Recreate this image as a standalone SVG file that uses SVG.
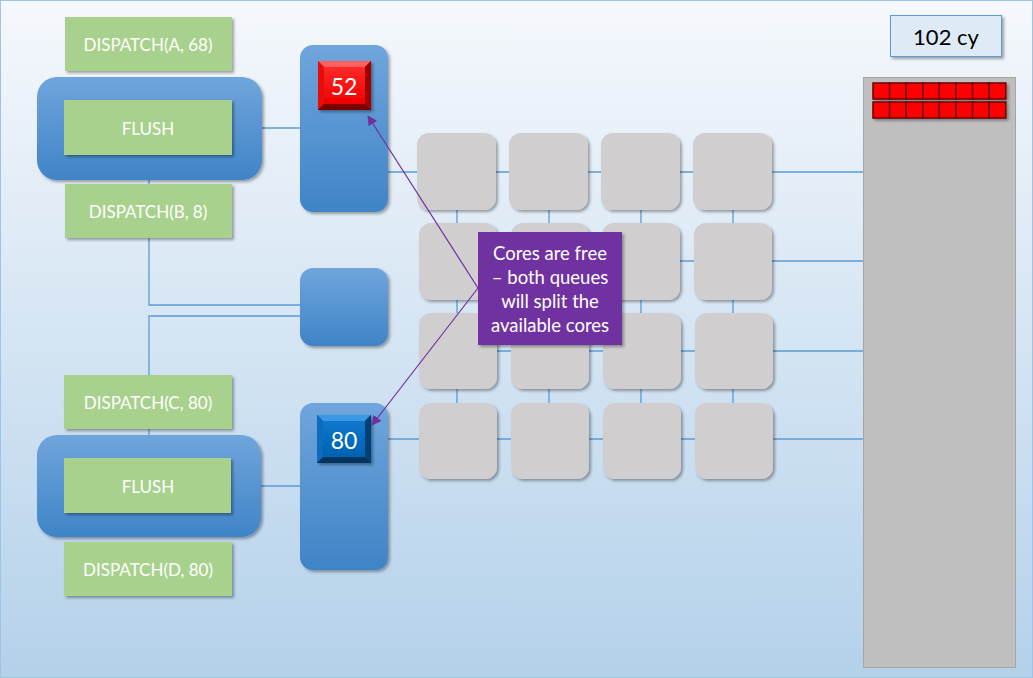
<svg xmlns="http://www.w3.org/2000/svg" width="1033" height="678" viewBox="0 0 1033 678">
<defs>
<linearGradient id="bg" x1="0" y1="0" x2="0" y2="1"><stop offset="0" stop-color="#f5f8fc"/><stop offset="1" stop-color="#b4d1ea"/></linearGradient>
<linearGradient id="blu" x1="0" y1="0" x2="0" y2="1"><stop offset="0" stop-color="#70a5dc"/><stop offset="1" stop-color="#3f84c7"/></linearGradient>
<linearGradient id="redf" x1="0" y1="0" x2="0" y2="1"><stop offset="0" stop-color="#ff2a2a"/><stop offset="1" stop-color="#ee0000"/></linearGradient>
<linearGradient id="bluf" x1="0" y1="0" x2="0" y2="1"><stop offset="0" stop-color="#0a78cc"/><stop offset="1" stop-color="#0062b0"/></linearGradient>
<filter id="sh" x="-20%" y="-20%" width="140%" height="140%"><feDropShadow dx="2" dy="2" stdDeviation="1.6" flood-color="#000" flood-opacity="0.35"/></filter>
<marker id="ah" viewBox="0 0 10 10" refX="9" refY="5" markerWidth="10" markerHeight="10" markerUnits="userSpaceOnUse" orient="auto"><path d="M0,0 L10,5 L0,10 z" fill="#7030a0"/></marker>
<style>
.ln{stroke:#5b9bd5;stroke-width:1.3;fill:none}
.grn{fill:#a9d18e;filter:url(#sh)}
.q{fill:url(#blu);filter:url(#sh)}
.core{fill:#d0cece;filter:url(#sh)}
.t{font-family:Lato,"Open Sans","Liberation Sans",sans-serif;font-size:17px;fill:#fff;text-anchor:middle;dominant-baseline:central}
.c{font-size:18.5px}
.num{font-family:Lato,"Open Sans","Liberation Sans",sans-serif;font-size:23px;fill:#fff;text-anchor:middle;dominant-baseline:central}
.arr{stroke:#7030a0;stroke-width:1.2;fill:none;marker-end:url(#ah)}
</style>
</defs>
<rect x="0.5" y="0.5" width="1032" height="677" fill="url(#bg)" stroke="#9dc3e6"/>

<g id="connectors">
<path class="ln" d="M262,128 H300"/>
<path class="ln" d="M149,180 V184 M149,238 V305 H300"/>
<path class="ln" d="M300,316 H149 V375 M149,429 V436"/>
<path class="ln" d="M261,486 H300"/>
<path class="ln" d="M388,172 H863"/>
<path class="ln" d="M458,261 H863"/>
<path class="ln" d="M458,351 H863"/>
<path class="ln" d="M388,439 H863"/>
<path class="ln" d="M457,210 V403 M549,210 V403 M641,210 V403 M733,210 V403"/>
</g>

<g id="flush1">
<rect x="37" y="77" width="225" height="103" rx="20" class="q"/>
<rect x="64" y="100" width="168" height="55" class="grn"/>
<text x="148" y="128" class="t">FLUSH</text>
</g>
<g id="dispatchA"><rect x="65" y="17" width="167" height="54" class="grn"/><text x="148" y="44" class="t">DISPATCH(A, 68)</text></g>
<g id="dispatchB"><rect x="65" y="184" width="167" height="54" class="grn"/><text x="148" y="211" class="t">DISPATCH(B, 8)</text></g>

<g id="flush2">
<rect x="37" y="435" width="224" height="102" rx="20" class="q"/>
<rect x="64" y="458" width="167" height="55" class="grn"/>
<text x="148" y="486" class="t">FLUSH</text>
</g>
<g id="dispatchC"><rect x="64" y="375" width="168" height="54" class="grn"/><text x="148" y="402" class="t">DISPATCH(C, 80)</text></g>
<g id="dispatchD"><rect x="64" y="542" width="168" height="54" class="grn"/><text x="148" y="569" class="t">DISPATCH(D, 80)</text></g>

<g id="queue1">
<rect x="300" y="45" width="88" height="167" rx="13" class="q"/>
<g filter="url(#sh)">
<rect x="318" y="61" width="53" height="49" fill="#c00000"/>
<polygon points="318,61 371,61 365,67 324,67" fill="#ff6060"/>
<polygon points="318,61 324,67 324,104 318,110" fill="#e81010"/>
<polygon points="371,61 371,110 365,104 365,67" fill="#a00000"/>
<polygon points="318,110 324,104 365,104 371,110" fill="#7a0000"/>
<rect x="324" y="67" width="41" height="37" fill="url(#redf)"/>
</g>
<text x="344" y="86" class="num">52</text>
</g>

<g id="queue2"><rect x="300" y="268" width="88" height="78" rx="13" class="q"/></g>

<g id="queue3">
<rect x="300" y="403" width="88" height="167" rx="13" class="q"/>
<g filter="url(#sh)">
<rect x="317" y="415" width="54" height="48" fill="#004a86"/>
<polygon points="317,415 371,415 365,421 323,421" fill="#3a98e4"/>
<polygon points="317,415 323,421 323,457 317,463" fill="#0a6cbc"/>
<polygon points="371,415 371,463 365,457 365,421" fill="#003f74"/>
<polygon points="317,463 323,457 365,457 371,463" fill="#00345f"/>
<rect x="323" y="421" width="42" height="36" fill="url(#bluf)"/>
</g>
<text x="344" y="440" class="num">80</text>
</g>

<g id="cores">
<rect x="417" y="133" width="79" height="77" rx="12" class="core"/>
<rect x="509" y="133" width="79" height="77" rx="12" class="core"/>
<rect x="601" y="133" width="79" height="77" rx="12" class="core"/>
<rect x="693" y="133" width="79" height="77" rx="12" class="core"/>
<rect x="419" y="223" width="78" height="77" rx="12" class="core"/>
<rect x="511" y="223" width="78" height="77" rx="12" class="core"/>
<rect x="602" y="223" width="78" height="77" rx="12" class="core"/>
<rect x="694" y="223" width="78" height="77" rx="12" class="core"/>
<rect x="419" y="313" width="78" height="76" rx="12" class="core"/>
<rect x="511" y="313" width="78" height="76" rx="12" class="core"/>
<rect x="603" y="313" width="78" height="76" rx="12" class="core"/>
<rect x="695" y="313" width="78" height="76" rx="12" class="core"/>
<rect x="419" y="403" width="78" height="76" rx="12" class="core"/>
<rect x="511" y="403" width="78" height="76" rx="12" class="core"/>
<rect x="603" y="403" width="78" height="76" rx="12" class="core"/>
<rect x="695" y="403" width="78" height="76" rx="12" class="core"/>
</g>

<g id="panel">
<rect x="863.5" y="77.5" width="152" height="590" fill="#bfbfbf" stroke="#a6a6a6"/>
<g id="blocks" filter="url(#sh)">
<g fill="#ff0000" stroke="#6a0000" stroke-width="1.5">
<rect x="873" y="83" width="16.6" height="16"/><rect x="889.6" y="83" width="16.6" height="16"/><rect x="906.2" y="83" width="16.6" height="16"/><rect x="922.8" y="83" width="16.6" height="16"/><rect x="939.4" y="83" width="16.6" height="16"/><rect x="956" y="83" width="16.6" height="16"/><rect x="972.6" y="83" width="16.6" height="16"/><rect x="989.2" y="83" width="16.6" height="16"/>
<rect x="873" y="102" width="16.6" height="16"/><rect x="889.6" y="102" width="16.6" height="16"/><rect x="906.2" y="102" width="16.6" height="16"/><rect x="922.8" y="102" width="16.6" height="16"/><rect x="939.4" y="102" width="16.6" height="16"/><rect x="956" y="102" width="16.6" height="16"/><rect x="972.6" y="102" width="16.6" height="16"/><rect x="989.2" y="102" width="16.6" height="16"/>
</g>
</g>
</g>

<g id="cycles">
<rect x="890.5" y="15.5" width="111" height="41" fill="#deebf7" stroke="#5b9bd5" filter="url(#sh)"/>
<text x="946" y="36" style="font-family:Lato,'Open Sans','Liberation Sans',sans-serif;font-size:22px;fill:#000;text-anchor:middle;dominant-baseline:central">102 cy</text>
</g>

<g id="callout">
<rect x="478" y="232" width="144" height="113" fill="#7030a0" filter="url(#sh)"/>
<text x="550" y="253" class="t c">Cores are free</text>
<text x="550" y="277" class="t c">– both queues</text>
<text x="550" y="301" class="t c">will split the</text>
<text x="550" y="325" class="t c">available cores</text>
</g>

<g id="arrows">
<path class="arr" d="M478,288 L368,116"/>
<path class="arr" d="M478,288 L372,425"/>
</g>
</svg>
